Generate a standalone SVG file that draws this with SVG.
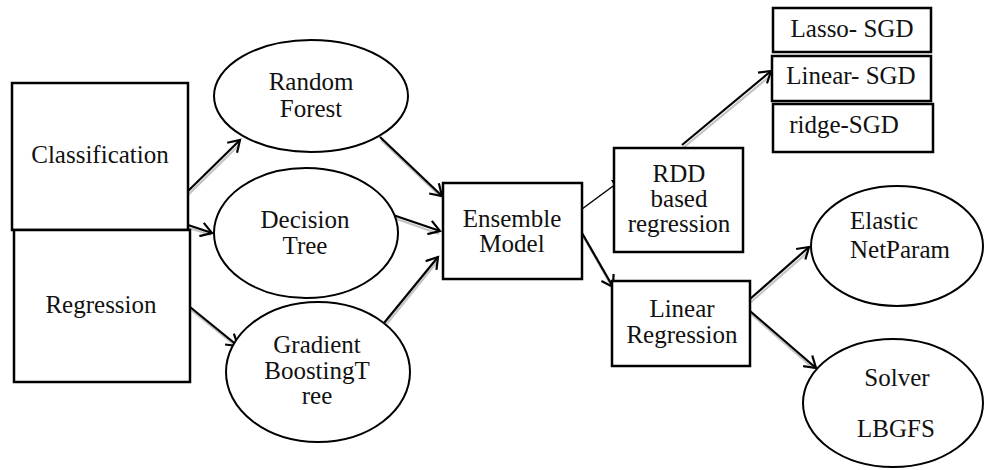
<svg xmlns="http://www.w3.org/2000/svg" width="984" height="470" viewBox="0 0 984 470">
<style>
.box{fill:#fff;stroke:#000;stroke-width:2.5}
.ell{fill:#fff;stroke:#000;stroke-width:2}
text{font-family:'Liberation Serif','DejaVu Serif','Times New Roman',serif;font-size:25px;fill:#111;text-anchor:middle}
.c{fill:none;stroke:#000;stroke-width:2.2}
.s{fill:none;stroke:#c4c4c4;stroke-width:2.2}
</style>
<defs>
<marker id="oa" markerUnits="userSpaceOnUse" markerWidth="16" markerHeight="16" refX="13" refY="8" orient="auto" viewBox="0 0 16 16">
<path d="M2,1 L13,8 L2,15" fill="none" stroke="#000" stroke-width="2.2"/>
</marker>
<marker id="fa" markerUnits="userSpaceOnUse" markerWidth="14" markerHeight="14" refX="12" refY="7" orient="auto" viewBox="0 0 14 14">
<path d="M0,1 L12,7 L0,13 Z" fill="#000"/>
</marker>
</defs>
<g id="connectors">
<g transform="translate(1,3)">
<line class="s" x1="186" y1="193" x2="238" y2="142"/>
<line class="s" x1="188" y1="225" x2="210" y2="232"/>
<line class="s" x1="190" y1="307" x2="236" y2="344"/>
<line class="s" x1="380" y1="137" x2="440" y2="194"/>
<line class="s" x1="393" y1="215" x2="438" y2="231"/>
<line class="s" x1="384" y1="323" x2="436" y2="259"/>
<line class="s" x1="582" y1="233" x2="611" y2="284"/>
<line class="s" x1="682" y1="145" x2="769" y2="73"/>
<line class="s" x1="750" y1="299" x2="807" y2="249"/>
<line class="s" x1="750" y1="311" x2="813" y2="366"/>
</g>
<line class="c" x1="186" y1="193" x2="240" y2="140" marker-end="url(#oa)"/>
<line class="c" x1="188" y1="225" x2="212" y2="233" marker-end="url(#oa)"/>
<line class="c" x1="190" y1="307" x2="238" y2="346" marker-end="url(#oa)"/>
<line class="c" x1="380" y1="137" x2="442" y2="196" marker-end="url(#oa)"/>
<line class="c" x1="393" y1="215" x2="440" y2="231" marker-end="url(#oa)"/>
<line class="c" x1="384" y1="323" x2="438" y2="257" marker-end="url(#oa)"/>
<line x1="582" y1="209" x2="624" y2="178" stroke="#000" stroke-width="1.5" marker-end="url(#fa)"/>
<line class="c" x1="582" y1="233" x2="613" y2="287" marker-end="url(#oa)"/>
<line class="c" x1="682" y1="145" x2="771" y2="71" marker-end="url(#oa)"/>
<line class="c" x1="750" y1="299" x2="809" y2="247" marker-end="url(#oa)"/>
<line class="c" x1="750" y1="311" x2="816" y2="368" marker-end="url(#oa)"/>
</g>
<g id="classification"><rect class="box" x="12" y="83" width="176" height="147"/><text x="100" y="163">Classification</text></g>
<g id="regression"><rect class="box" x="14" y="230" width="176" height="152"/><text x="101" y="313">Regression</text></g>
<g id="random-forest"><ellipse class="ell" cx="311" cy="96" rx="97" ry="56"/><text x="311" y="90">Random</text><text x="311" y="117">Forest</text></g>
<g id="decision-tree"><ellipse class="ell" cx="306" cy="233" rx="92" ry="65"/><text x="305" y="228">Decision</text><text x="305" y="254">Tree</text></g>
<g id="gradient-boosting"><ellipse class="ell" cx="318" cy="372" rx="92" ry="70"/><text x="317" y="353">Gradient</text><text x="317" y="379">BoostingT</text><text x="317" y="404">ree</text></g>
<g id="ensemble-model"><rect class="box" x="443" y="183" width="139" height="96"/><text x="512" y="227">Ensemble</text><text x="512" y="252">Model</text></g>
<g id="rdd-regression"><rect class="box" x="614" y="148" width="129" height="104"/><text x="679" y="182">RDD</text><text x="679" y="207">based</text><text x="679" y="232">regression</text></g>
<g id="lasso-sgd"><rect class="box" x="773" y="8" width="158" height="44"/><text x="852" y="37">Lasso- SGD</text></g>
<g id="linear-sgd"><rect class="box" x="772" y="56" width="159" height="45"/><text x="851" y="84">Linear- SGD</text></g>
<g id="ridge-sgd"><rect class="box" x="773" y="104" width="160" height="48"/><text x="844" y="133">ridge-SGD</text></g>
<g id="linear-regression"><rect class="box" x="612" y="281" width="138" height="85"/><text x="682" y="317">Linear</text><text x="682" y="343">Regression</text></g>
<g id="elastic-netparam"><ellipse class="ell" cx="897" cy="246" rx="86" ry="60"/><text x="850" y="229" style="text-anchor:start">Elastic</text><text x="850" y="258" style="text-anchor:start">NetParam</text></g>
<g id="solver-lbgfs"><ellipse class="ell" cx="893" cy="403" rx="90" ry="64"/><text x="897" y="386">Solver</text><text x="896" y="437">LBGFS</text></g>
</svg>
